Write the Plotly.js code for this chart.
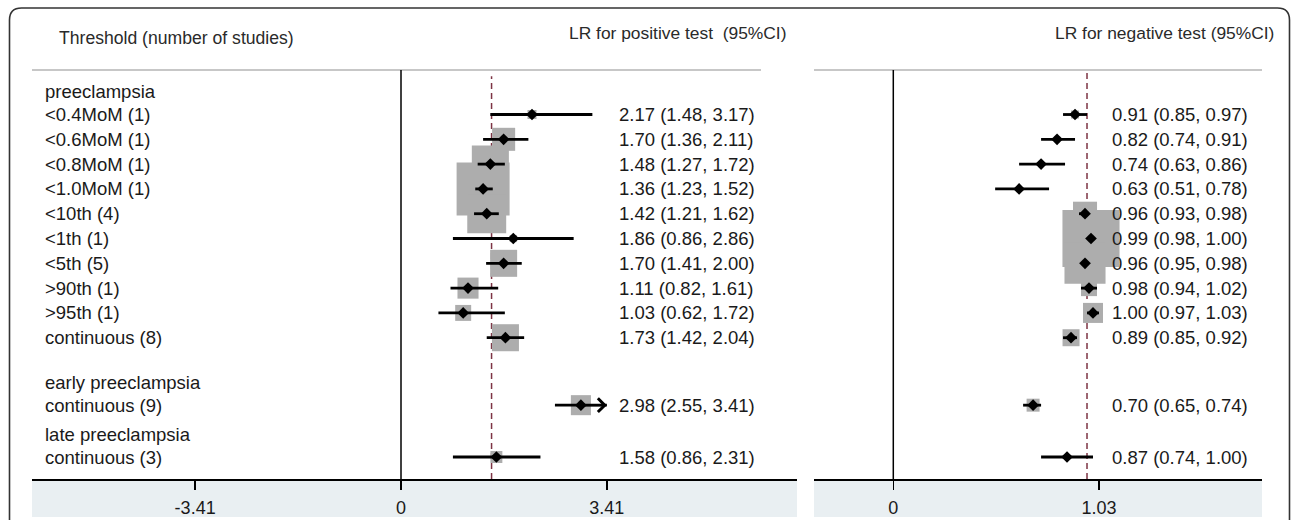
<!DOCTYPE html>
<html>
<head>
<meta charset="utf-8">
<script src="https://cdn.plot.ly/plotly-3.0.1.min.js"></script>
<style>html,body{margin:0;padding:0;background:#fff;}#chart{width:1292px;height:520px;}</style>
</head>
<body>
<div id="chart"></div>
<script>
// ---------- data ----------
const groupNames = ['preeclampsia', 'early preeclampsia', 'late preeclampsia'];
const rowGroup   = [0, 0, 0, 0, 0, 0, 0, 0, 0, 0, 1, 2];
const rowLabels  = ['<0.4MoM (1)', '<0.6MoM (1)', '<0.8MoM (1)', '<1.0MoM (1)', '<10th (4)', '<1th (1)',
                    '<5th (5)', '>90th (1)', '>95th (1)', 'continuous (8)', 'continuous (9)', 'continuous (3)'];

const plrEst = [2.17, 1.70, 1.48, 1.36, 1.42, 1.86, 1.70, 1.11, 1.03, 1.73, 2.98, 1.58];
const plrLo  = [1.48, 1.36, 1.27, 1.23, 1.21, 0.86, 1.41, 0.82, 0.62, 1.42, 2.55, 0.86];
const plrHi  = [3.17, 2.11, 1.72, 1.52, 1.62, 2.86, 2.00, 1.61, 1.72, 2.04, 3.41, 2.31];
const plrWeight = [2.9, 18.9, 48.9, 100, 54, 1.8, 26, 15.8, 9.1, 26, 14.3, 5.1];

const nlrEst = [0.91, 0.82, 0.74, 0.63, 0.96, 0.99, 0.96, 0.98, 1.00, 0.89, 0.70, 0.87];
const nlrLo  = [0.85, 0.74, 0.63, 0.51, 0.93, 0.98, 0.95, 0.94, 0.97, 0.85, 0.65, 0.74];
const nlrHi  = [0.97, 0.91, 0.86, 0.78, 0.98, 1.00, 0.98, 1.02, 1.03, 0.92, 0.74, 1.00];
const nlrWeight = [2.3, 1.3, 0.3, 0.3, 20.6, 116, 60, 9.1, 14.3, 10.3, 6.0, 0.3];

const plrRef = 1.50;   // overall (dashed line)
const nlrRef = 0.97;
const plrTicks = [-3.41, 0, 3.41];
const nlrTicks = [0, 1.03];

// ---------- layout helpers ----------
const W = 1292, H = 520;
const px = v => v / W;
const py = v => 1 - v / H;
const FONT = 'Liberation Sans, Arial, sans-serif';
const TXT = '#1a1a1a';

// row positions (row units)
const headerToRow = 0.92, groupGapExtra = [0, 0.8, 0.17];
const rowY = [], headerY = [];
let cur = null;
rowGroup.forEach((g, i) => {
  if (headerY[g] === undefined) {
    if (cur === null) { headerY[g] = 0; cur = 0; }
    else { headerY[g] = cur + 1 + groupGapExtra[g]; cur = headerY[g]; }
    cur = cur + headerToRow;
  } else {
    cur = cur + 1;
  }
  rowY.push(cur);
});
const unitPx = 24.8, headerPx = 91.7, topPx = 70, botPx = 479;
const yRange = [(botPx - headerPx) / unitPx, -(headerPx - topPx) / unitPx];

const boxK = 5.3;
const boxSize = w => boxK * Math.sqrt(w);
const fmt = v => v.toFixed(2);

const traces = [];
function panel(est, lo, hi, wt, xa) {
  traces.push({
    type: 'scatter', mode: 'markers', x: est, y: rowY, xaxis: xa, yaxis: 'y',
    marker: {symbol: 'square', size: wt.map(boxSize), color: '#adadad', opacity: 1, line: {width: 0}},
    hoverinfo: 'skip', showlegend: false
  });
  traces.push({
    type: 'scatter', mode: 'markers', x: est, y: rowY, xaxis: xa, yaxis: 'y',
    marker: {symbol: 'diamond', size: 9, color: '#000', opacity: 1, line: {width: 0}},
    error_x: {type: 'data', symmetric: false,
      array: hi.map((h, i) => h - est[i]), arrayminus: lo.map((l, i) => est[i] - l),
      width: 0, thickness: 2.8, color: '#000'},
    hoverinfo: 'skip', showlegend: false
  });
}
panel(plrEst, plrLo, plrHi, plrWeight, 'x');
panel(nlrEst, nlrLo, nlrHi, nlrWeight, 'x2');

const leftDom = [px(32), px(797)], rightDom = [px(814), px(1262)];
const axBase = {
  showgrid: false, zeroline: false, showline: true, linecolor: '#000', linewidth: 1.5,
  ticks: 'outside', ticklen: 9, tickwidth: 1.5, tickcolor: '#000', ticklabelstandoff: 3,
  tickfont: {family: FONT, size: 18, color: TXT}, fixedrange: true, anchor: 'y'
};

const shapes = [];
const annotations = [];

// outer rounded frame
{
  const x0 = 9.5, x1 = 1289.5, y0 = 8, y1 = 560, r = 12;
  shapes.push({type: 'path', xref: 'paper', yref: 'paper', layer: 'below',
    path: `M ${px(x0)},${py(y1)} L ${px(x0)},${py(y0 + r)} Q ${px(x0)},${py(y0)} ${px(x0 + r)},${py(y0)} ` +
          `L ${px(x1 - r)},${py(y0)} Q ${px(x1)},${py(y0)} ${px(x1)},${py(y0 + r)} L ${px(x1)},${py(y1)}`,
    line: {color: '#333', width: 1.6}});
}
// bottom bands
['x domain', 'x2 domain'].forEach(xr => {
  shapes.push({type: 'rect', xref: xr, yref: 'paper', x0: 0, x1: 1, y0: py(517), y1: py(479.5),
    fillcolor: '#e9eff2', line: {width: 0}, layer: 'below'});
});
// top grey lines
shapes.push({type: 'line', xref: 'paper', yref: 'y domain', x0: px(32), x1: px(761), y0: 1, y1: 1,
  line: {color: '#b5b5b5', width: 1.5}});
shapes.push({type: 'line', xref: 'paper', yref: 'y domain', x0: px(814), x1: px(1262), y0: 1, y1: 1,
  line: {color: '#b5b5b5', width: 1.5}});
// zero lines
['x', 'x2'].forEach(xr => {
  shapes.push({type: 'line', xref: xr, yref: 'y domain', x0: 0, x1: 0, y0: 0, y1: 1,
    line: {color: '#000', width: 1.5}});
});
// reference dashed lines
shapes.push({type: 'line', xref: 'x', yref: 'y domain', x0: plrRef, x1: plrRef, y0: 0, y1: 0.985,
  line: {color: '#7d3444', width: 1.5, dash: '6px,4px'}, layer: 'below'});
shapes.push({type: 'line', xref: 'x2', yref: 'y domain', x0: nlrRef, x1: nlrRef, y0: 0, y1: 1,
  line: {color: '#7d3444', width: 1.5, dash: '6px,4px'}, layer: 'below'});

// headers
annotations.push({xref: 'paper', yref: 'paper', x: px(57), y: py(38), xanchor: 'left', yanchor: 'middle',
  text: 'Threshold (number of studies)', showarrow: false, font: {family: FONT, size: 17.6, color: '#2a2a2a'}});
annotations.push({xref: 'paper', yref: 'paper', x: px(788), y: py(33), xanchor: 'right', yanchor: 'middle',
  text: 'LR for positive test  (95%CI)', showarrow: false, font: {family: FONT, size: 17.4, color: '#2a2a2a'}});
annotations.push({xref: 'paper', yref: 'paper', x: px(1276), y: py(33), xanchor: 'right', yanchor: 'middle',
  text: 'LR for negative test (95%CI)', showarrow: false, font: {family: FONT, size: 17.4, color: '#2a2a2a'}});

// group headers and row labels
groupNames.forEach((g, i) => annotations.push({xref: 'paper', yref: 'y', x: px(43), y: headerY[i],
  xanchor: 'left', yanchor: 'middle', text: g, showarrow: false, font: {family: FONT, size: 18.5, color: TXT}}));
rowLabels.forEach((t, i) => annotations.push({xref: 'paper', yref: 'y', x: px(43), y: rowY[i],
  xanchor: 'left', yanchor: 'middle', text: t.replace(/</g, '&lt;').replace(/>/g, '&gt;'), showarrow: false,
  font: {family: FONT, size: 18.5, color: TXT}}));

// value texts
plrEst.forEach((e, i) => annotations.push({xref: 'paper', yref: 'y', x: px(617), y: rowY[i],
  xanchor: 'left', yanchor: 'middle', text: `${fmt(e)} (${fmt(plrLo[i])}, ${fmt(plrHi[i])})`,
  showarrow: false, font: {family: FONT, size: 18.5, color: TXT}}));
nlrEst.forEach((e, i) => annotations.push({xref: 'paper', yref: 'y', x: px(1110), y: rowY[i],
  xanchor: 'left', yanchor: 'middle', text: `${fmt(e)} (${fmt(nlrLo[i])}, ${fmt(nlrHi[i])})`,
  showarrow: false, font: {family: FONT, size: 18.5, color: TXT}}));

// arrows for CIs reaching the display limit
const plrMax = Math.max(...plrTicks);
plrHi.forEach((h, i) => {
  if (h >= plrMax) annotations.push({xref: 'x', yref: 'y', axref: 'x', ayref: 'y',
    x: h, y: rowY[i], ax: plrEst[i], ay: rowY[i], text: '', showarrow: true,
    arrowhead: 4, arrowsize: 1.1, arrowwidth: 2.4, arrowcolor: '#000'});
});

const layout = {
  width: W, height: H, margin: {l: 0, r: 0, t: 0, b: 0},
  paper_bgcolor: '#fff', plot_bgcolor: 'rgba(0,0,0,0)',
  font: {family: FONT},
  xaxis: Object.assign({}, axBase, {domain: leftDom,
    range: [-(401 - 32) / 60.37, (797 - 401) / 60.37],
    tickvals: plrTicks, ticktext: plrTicks.map(String)}),
  xaxis2: Object.assign({}, axBase, {domain: rightDom,
    range: [-(893.3 - 814) / 199.7, (1262 - 893.3) / 199.7],
    tickvals: nlrTicks, ticktext: nlrTicks.map(String)}),
  yaxis: {domain: [py(botPx), py(topPx)], range: yRange, visible: false, fixedrange: true},
  shapes: shapes, annotations: annotations, showlegend: false
};

Plotly.newPlot('chart', traces, layout, {displayModeBar: false, staticPlot: true});
</script>
</body>
</html>
